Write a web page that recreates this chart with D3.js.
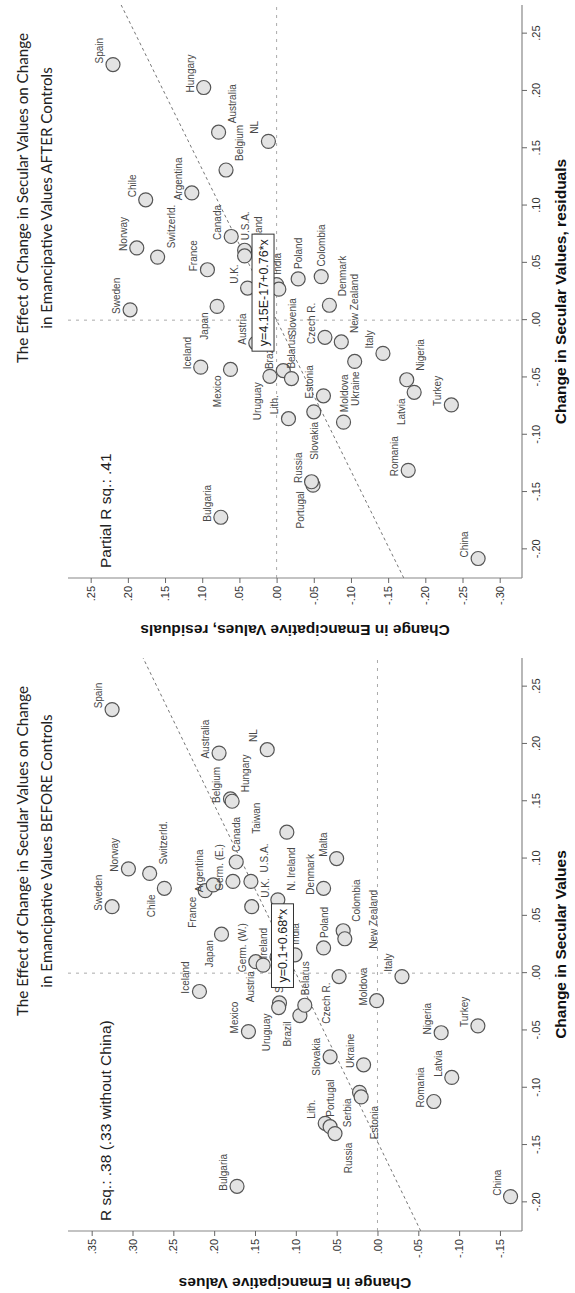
<!DOCTYPE html>
<html>
<head>
<meta charset="utf-8">
<script src="https://cdn.jsdelivr.net/npm/d3@7"></script>
<style>
  body { margin: 0; background: #fff; }
  svg { display: block; }
</style>
</head>
<body>
<script>
// ---------- shared axis ticks ----------
const secularTicks = [-0.20, -0.15, -0.10, -0.05, 0, 0.05, 0.10, 0.15, 0.20, 0.25];
const secularTickText = ["-.20", "-.15", "-.10", "-.05", ".00", ".05", ".10", ".15", ".20", ".25"];

// ---------- panel A: after controls (residuals) ----------
const afterCountries = ["Spain","Hungary","Australia","NL","Belgium","Argentina","Chile","Canada","Norway","Switzerld.",
  "U.S.A.","Ireland","France","U.K.","India","Poland","Colombia","Sweden","Japan","Denmark",
  "Austria","Czech R.","New Zealand","Italy","Iceland","Mexico","Uruguay","Brazil","Belarus","Slovenia",
  "Lith.","Estonia","Moldova","Ukraine","Slovakia","Portugal","Russia","Romania","Nigeria","Latvia",
  "Turkey","China","Bulgaria"];
const afterSecular = [0.223,0.203,0.164,0.156,0.131,0.111,0.105,0.073,0.063,0.055,
  0.061,0.056,0.044,0.028,0.031,0.036,0.038,0.009,0.012,0.013,
  -0.020,-0.015,-0.019,-0.029,-0.041,-0.043,-0.049,-0.044,-0.051,0.027,
  -0.086,-0.066,-0.089,-0.036,-0.080,-0.144,-0.141,-0.131,-0.052,-0.063,
  -0.074,-0.208,-0.172];
const afterEmancip = [0.220,0.098,0.078,0.011,0.068,0.114,0.176,0.061,0.188,0.160,
  0.043,0.043,0.093,0.039,0.000,-0.029,-0.060,0.197,0.080,-0.071,
  0.028,-0.065,-0.087,-0.143,0.102,0.062,0.009,-0.009,-0.020,-0.003,
  -0.016,-0.063,-0.090,-0.105,-0.050,-0.049,-0.047,-0.177,-0.175,-0.185,
  -0.235,-0.271,0.075];
const afterLabelPos = ["tr","tr","br","tr","br","tr","tr","tr","tr","br",
  "r","br","tr","tr","r","r","r","tr","tl","br",
  "tr","tr","br","tr","tr","tl","tl","tr","r","bl",
  "tr","tr","r","l","l","tl","tr","tr","br","tl",
  "tr","tr","tr"];
const afterYTicks = [-0.30,-0.25,-0.20,-0.15,-0.10,-0.05,0,0.05,0.10,0.15,0.20,0.25];
const afterYTickText = ["-.30","-.25","-.20","-.15","-.10","-.05",".00",".05",".10",".15",".20",".25"];
const afterFit = { intercept: 4.15e-17, slope: 0.76, text: "y=4.15E-17+0.76*x" };

// ---------- panel B: before controls ----------
const beforeCountries = ["Spain","Australia","NL","Belgium","Hungary","Taiwan","Malta","Denmark","Sweden","Norway",
  "Switzerld.","Chile","France","Argentina","Germ. (E.)","Canada","U.S.A.","U.K.","N. Ireland","Japan",
  "Germ. (W.)","Austria","Ireland","India","Poland","Colombia","New Zealand","Czech R.","Italy","Moldova",
  "Iceland","Mexico","Slovenia","Uruguay","Brazil","Belarus","Slovakia","Ukraine","Serbia","Estonia",
  "Lith.","Portugal","Russia","Romania","Latvia","Nigeria","Turkey","China","Bulgaria"];
const beforeSecular = [0.230,0.192,0.195,0.152,0.150,0.123,0.100,0.074,0.058,0.091,
  0.087,0.074,0.072,0.077,0.080,0.097,0.080,0.058,0.064,0.034,
  0.010,0.007,0.014,0.016,0.022,0.037,0.030,-0.003,-0.003,-0.024,
  -0.016,-0.051,-0.026,-0.030,-0.037,-0.028,-0.073,-0.080,-0.104,-0.108,
  -0.131,-0.134,-0.140,-0.112,-0.091,-0.052,-0.046,-0.195,-0.186];
const beforeEmancip = [0.325,0.194,0.135,0.180,0.178,0.111,0.050,0.066,0.325,0.305,
  0.279,0.261,0.211,0.201,0.177,0.173,0.155,0.154,0.122,0.191,
  0.149,0.140,0.123,0.101,0.066,0.042,0.040,0.047,-0.030,0.001,
  0.218,0.158,0.120,0.121,0.095,0.089,0.058,0.017,0.022,0.020,
  0.064,0.058,0.052,-0.069,-0.091,-0.078,-0.123,-0.163,0.172];
const beforeLabelPos = ["tr","tr","tr","tr","br","tt","tr","tr","tr","tr",
  "br","tl","tl","tr","tr","r","br","br","br","tl",
  "tr","tl","tr","r","r","br","bb","tl","tr","tr",
  "tr","tr","r","tl","tl","r","t","tr","tl","bl",
  "tr","r","bl","tr","tr","tr","tr","tr","tr"];
const beforeYTicks = [-0.15,-0.10,-0.05,0,0.05,0.10,0.15,0.20,0.25,0.30,0.35];
const beforeYTickText = ["-.15","-.10","-.05",".00",".05",".10",".15",".20",".25",".30",".35"];
const beforeFit = { intercept: 0.1, slope: 0.68, text: "y=0.1+0.68*x" };

// ---------- layout ----------
const W = 575, H = 1293;
const FONT = "'Liberation Sans', Arial, Helvetica, sans-serif";
const TITLE_FONT = "Lato, 'Open Sans', sans-serif";

// label placements around a marker (unrotated panel frame)
const placement = {
  tr: { dx: 14, dy: -10, anchor: "middle" },
  tt: { dx: 14, dy: -27, anchor: "middle" },
  t:  { dx: 0,  dy: -10, anchor: "middle" },
  r:  { dx: 10, dy: 4,   anchor: "start" },
  l:  { dx: -10, dy: 4,  anchor: "end" },
  br: { dx: 9,  dy: 17,  anchor: "start" },
  bb: { dx: -10, dy: 32, anchor: "start" },
  bl: { dx: -9, dy: 17,  anchor: "end" },
  tl: { dx: -6, dy: -9,  anchor: "end" },
  b:  { dx: 0,  dy: 18,  anchor: "middle" }
};

const svg = d3.select("body").append("svg")
  .attr("width", W).attr("height", H)
  .attr("viewBox", `0 0 ${W} ${H}`);

function drawPanel(cfg) {
  // the panel is laid out upright, then turned a quarter turn counter-clockwise
  const g = svg.append("g").attr("transform", `translate(0,${cfg.base}) rotate(-90)`);

  const plot = { left: 67, right: 640, top: 68, bottom: 522 };
  const x = d3.scaleLinear().domain([-0.225, 0.275]).range([plot.left, plot.right]);
  const y = d3.scaleLinear().domain(cfg.yDomain).range([plot.bottom, plot.top]);

  // title
  const title = g.append("text")
    .attr("font-family", TITLE_FONT).attr("font-size", 15.2).attr("fill", "#222")
    .attr("text-anchor", "middle");
  cfg.title.forEach((line, i) => {
    title.append("tspan").attr("x", 447).attr("y", 28 + i * 24).text(line);
  });

  // zero reference lines
  g.append("line")
    .attr("x1", x(0)).attr("x2", x(0)).attr("y1", plot.top).attr("y2", plot.bottom)
    .attr("stroke", "#aaa").attr("stroke-width", 1).attr("stroke-dasharray", "3,5");
  g.append("line")
    .attr("x1", plot.left).attr("x2", plot.right).attr("y1", y(0)).attr("y2", y(0))
    .attr("stroke", "#aaa").attr("stroke-width", 1).attr("stroke-dasharray", "3,5");

  // fitted line across the full secular range
  const xd = x.domain();
  const fitY = v => cfg.fit.intercept + cfg.fit.slope * v;
  g.append("line")
    .attr("x1", x(xd[0])).attr("y1", y(fitY(xd[0])))
    .attr("x2", x(xd[1])).attr("y2", y(fitY(xd[1])))
    .attr("stroke", "#777").attr("stroke-width", 1).attr("stroke-dasharray", "3,3");

  // axes
  const xAxis = d3.axisBottom(x)
    .tickValues(secularTicks)
    .tickFormat((d, i) => secularTickText[i])
    .tickSize(5).tickPadding(5);
  const yAxis = d3.axisLeft(y)
    .tickValues(cfg.yTicks)
    .tickFormat((d, i) => cfg.yTickText[i])
    .tickSize(5).tickPadding(3);

  const gx = g.append("g").attr("transform", `translate(0,${plot.bottom})`).call(xAxis);
  const gy = g.append("g").attr("transform", `translate(${plot.left},0)`).call(yAxis);
  [gx, gy].forEach(a => {
    a.select(".domain").attr("stroke", "#888").attr("stroke-width", 1.2);
    a.selectAll(".tick line").attr("stroke", "#666");
    a.selectAll(".tick text").attr("font-family", FONT).attr("font-size", 11).attr("fill", "#333");
  });
  // axis lines run the whole plot edge
  gx.select(".domain").attr("d", `M${plot.left},0H${plot.right}`);
  gy.select(".domain").attr("d", `M0,${plot.top}V${plot.bottom}`);

  // axis titles
  g.append("text")
    .attr("x", (plot.left + plot.right) / 2).attr("y", 566)
    .attr("text-anchor", "middle").attr("font-family", FONT).attr("font-weight", "bold")
    .attr("font-size", 15.5).attr("fill", "#111").text(cfg.xTitle);
  g.append("text")
    .attr("transform", `translate(20,${(plot.top + plot.bottom) / 2}) rotate(-90)`)
    .attr("text-anchor", "middle").attr("font-family", FONT).attr("font-weight", "bold")
    .attr("font-size", 15.5).attr("fill", "#111").text(cfg.yTitle);

  // markers
  const data = cfg.countries.map((c, i) => ({
    name: c, sx: cfg.secular[i], ey: cfg.emancip[i], pos: cfg.labelPos[i]
  }));
  g.append("g").selectAll("circle").data(data).join("circle")
    .attr("cx", d => x(d.sx)).attr("cy", d => y(d.ey)).attr("r", 7)
    .attr("fill", "#e3e3e3").attr("stroke", "#555").attr("stroke-width", 1.2);

  // country labels
  g.append("g").selectAll("text").data(data).join("text")
    .attr("x", d => x(d.sx) + placement[d.pos].dx)
    .attr("y", d => y(d.ey) + placement[d.pos].dy)
    .attr("text-anchor", d => placement[d.pos].anchor)
    .attr("font-family", FONT).attr("font-size", 10).attr("fill", "#484848")
    .text(d => d.name);

  // equation box on the fitted line
  const bx = 0.024;
  const eq = g.append("g").attr("transform", `translate(${x(bx)},${y(fitY(bx))})`);
  const eqText = eq.append("text")
    .attr("text-anchor", "middle").attr("dy", "0.36em")
    .attr("font-family", FONT).attr("font-size", 12.5).attr("fill", "#222")
    .text(cfg.fit.text);
  const tw = eqText.node().getComputedTextLength();
  eq.insert("rect", "text")
    .attr("x", -tw / 2 - 5).attr("y", -11).attr("width", tw + 10).attr("height", 22)
    .attr("fill", "#fff").attr("stroke", "#333").attr("stroke-width", 1);

  // R-squared note
  g.append("text")
    .attr("x", plot.left + 10).attr("y", plot.top + 43)
    .attr("font-family", FONT).attr("font-size", 15.5).attr("fill", "#222")
    .text(cfg.rsq);
}

drawPanel({
  base: 645,
  title: ["The Effect of Change in Secular Values on Change", "in Emancipative Values AFTER Controls"],
  xTitle: "Change in Secular Values, residuals",
  yTitle: "Change in Emancipative Values, residuals",
  yDomain: [-0.33, 0.2805],
  yTicks: afterYTicks, yTickText: afterYTickText,
  countries: afterCountries, secular: afterSecular, emancip: afterEmancip, labelPos: afterLabelPos,
  fit: afterFit,
  rsq: "Partial R sq.: .41"
});

drawPanel({
  base: 1298,
  title: ["The Effect of Change in Secular Values on Change", "in Emancipative Values BEFORE Controls"],
  xTitle: "Change in Secular Values",
  yTitle: "Change in Emancipative Values",
  yDomain: [-0.177, 0.379],
  yTicks: beforeYTicks, yTickText: beforeYTickText,
  countries: beforeCountries, secular: beforeSecular, emancip: beforeEmancip, labelPos: beforeLabelPos,
  fit: beforeFit,
  rsq: "R sq.: .38 (.33 without China)"
});
</script>
</body>
</html>
